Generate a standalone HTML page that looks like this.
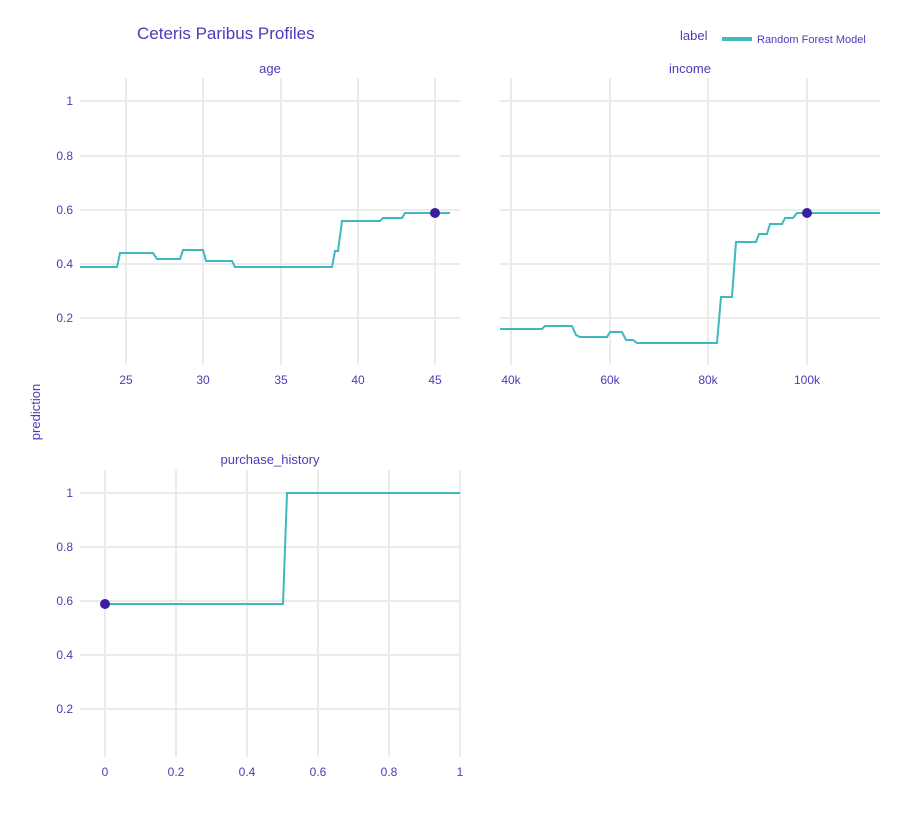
<!DOCTYPE html>
<html><head><meta charset="utf-8"><style>
body{margin:0;background:#fff}
text{font-family:"Liberation Sans",sans-serif;fill:#4a3cb8}
</style></head><body>
<svg width="911" height="829" xmlns="http://www.w3.org/2000/svg">
<rect width="911" height="829" fill="#fff"/>
<g stroke="#ebebeb" stroke-width="2">
<line x1="80" x2="460" y1="101" y2="101"/><line x1="80" x2="460" y1="156" y2="156"/><line x1="80" x2="460" y1="210" y2="210"/><line x1="80" x2="460" y1="264" y2="264"/><line x1="80" x2="460" y1="318" y2="318"/>
<line x1="126" x2="126" y1="78" y2="365"/><line x1="203" x2="203" y1="78" y2="365"/><line x1="281" x2="281" y1="78" y2="365"/><line x1="358" x2="358" y1="78" y2="365"/><line x1="435" x2="435" y1="78" y2="365"/>
<line x1="500" x2="880" y1="101" y2="101"/><line x1="500" x2="880" y1="156" y2="156"/><line x1="500" x2="880" y1="210" y2="210"/><line x1="500" x2="880" y1="264" y2="264"/><line x1="500" x2="880" y1="318" y2="318"/>
<line x1="511" x2="511" y1="78" y2="365"/><line x1="610" x2="610" y1="78" y2="365"/><line x1="708" x2="708" y1="78" y2="365"/><line x1="807" x2="807" y1="78" y2="365"/>
<line x1="80" x2="460" y1="493" y2="493"/><line x1="80" x2="460" y1="547" y2="547"/><line x1="80" x2="460" y1="601" y2="601"/><line x1="80" x2="460" y1="655" y2="655"/><line x1="80" x2="460" y1="709" y2="709"/>
<line x1="105" x2="105" y1="470" y2="757"/><line x1="176" x2="176" y1="470" y2="757"/><line x1="247" x2="247" y1="470" y2="757"/><line x1="318" x2="318" y1="470" y2="757"/><line x1="389" x2="389" y1="470" y2="757"/><line x1="460" x2="460" y1="470" y2="757"/>
</g>
<g fill="none" stroke="#3fb8c0" stroke-width="2">
<polyline points="80,267 117,267 120,253 153,253 157,259 180,259 183,250 203,250 206,261 232,261 235,267 332,267 335,251 338,251 342,221 380,221 383,218 402,218 405,213 450,213"/>
<polyline points="500,329 542,329 545,326 572,326 576,335 580,337 607,337 610,332 622,332 626,340 633,340 637,343 717,343 721,297 732,297 736,242 756,242 759,234 767,234 770,224 782,224 785,218 793,218 797,213 880,213"/>
<polyline points="105,604 283,604 287,493 460,493"/>
</g>
<g fill="#3a1fa0"><circle cx="435" cy="213" r="5"/><circle cx="807" cy="213" r="5"/><circle cx="105" cy="604" r="5"/></g>
<g font-size="12">
<g text-anchor="end"><text x="73" y="105">1</text><text x="73" y="160">0.8</text><text x="73" y="214">0.6</text><text x="73" y="268">0.4</text><text x="73" y="322">0.2</text>
<text x="73" y="497">1</text><text x="73" y="551">0.8</text><text x="73" y="605">0.6</text><text x="73" y="659">0.4</text><text x="73" y="713">0.2</text></g>
<g text-anchor="middle"><text x="126" y="384">25</text><text x="203" y="384">30</text><text x="281" y="384">35</text><text x="358" y="384">40</text><text x="435" y="384">45</text>
<text x="511" y="384">40k</text><text x="610" y="384">60k</text><text x="708" y="384">80k</text><text x="807" y="384">100k</text>
<text x="105" y="776">0</text><text x="176" y="776">0.2</text><text x="247" y="776">0.4</text><text x="318" y="776">0.6</text><text x="389" y="776">0.8</text><text x="460" y="776">1</text>
<text x="270" y="73" font-size="13">age</text><text x="690" y="73" font-size="13">income</text><text x="270" y="464" font-size="13">purchase_history</text></g>
<text x="40" y="412" text-anchor="middle" font-size="13" transform="rotate(-90 40 412)">prediction</text>
<text x="137" y="39" font-size="17">Ceteris Paribus Profiles</text>
<text x="680" y="40" font-size="13">label</text>
<text x="757" y="43" font-size="11">Random Forest Model</text>
</g>
<line x1="722" x2="752" y1="39" y2="39" stroke="#3fb8c0" stroke-width="4"/>
</svg>
</body></html>
